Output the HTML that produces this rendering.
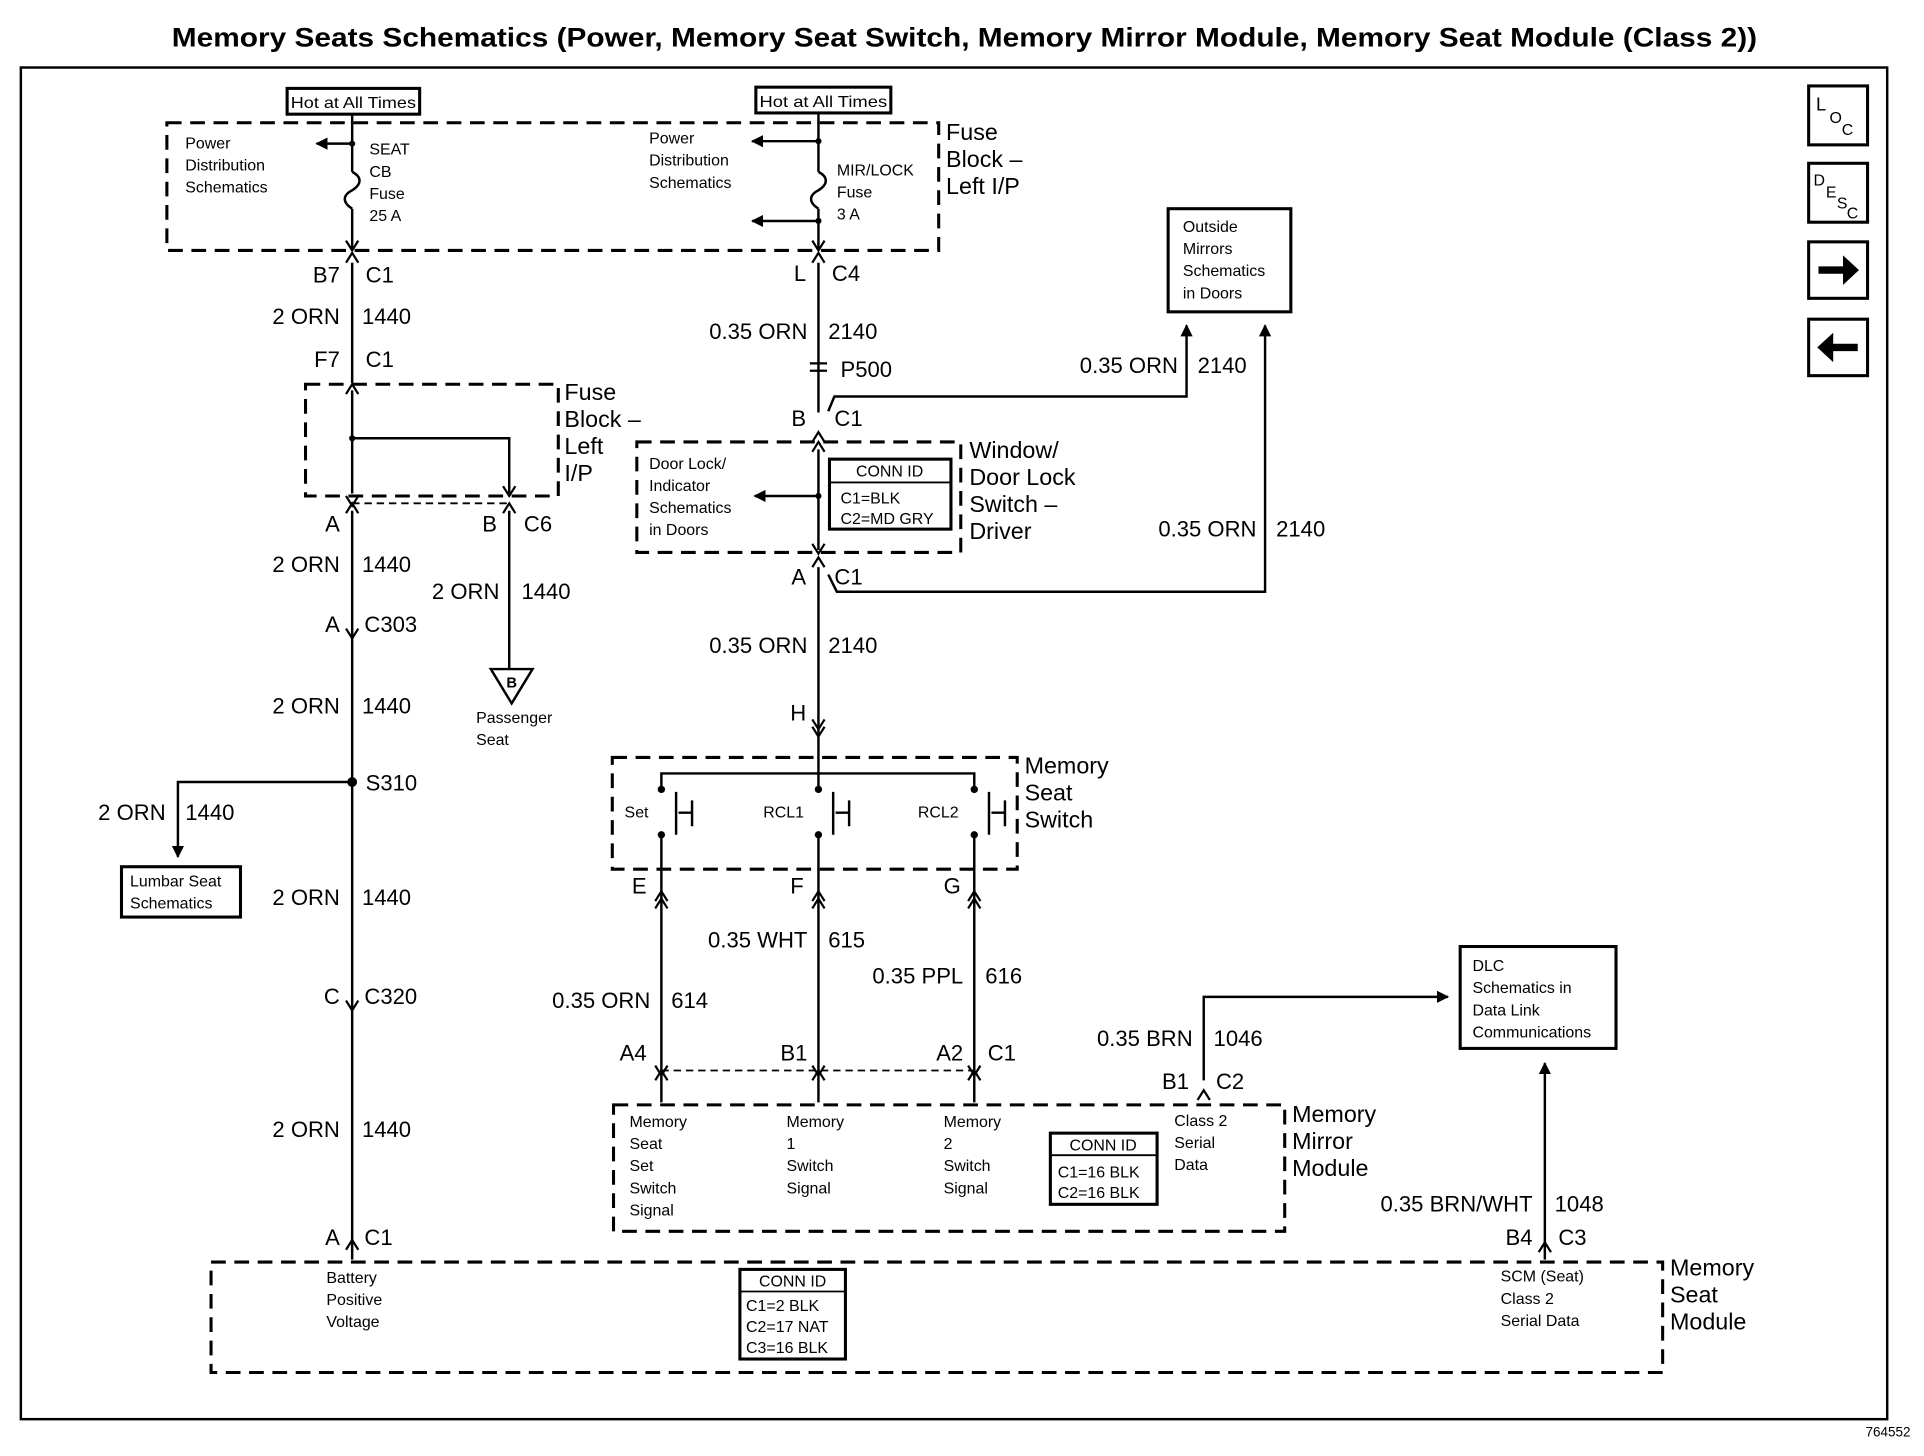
<!DOCTYPE html>
<html><head><meta charset="utf-8"><style>
html,body{margin:0;padding:0;background:#fff;}
svg{display:block}
text{font-family:"Liberation Sans",Arial,sans-serif;fill:#000}
.s{font-size:13px}
.m{font-size:18px}
.l{font-size:19px}
</style></head><body>
<svg width="1924" height="1456" viewBox="0 0 1568 1186" preserveAspectRatio="none" xmlns="http://www.w3.org/2000/svg">
<defs>
<marker id="ar" viewBox="0 0 10 10" refX="9" refY="5" markerWidth="5" markerHeight="5" orient="auto"><path d="M0,0 L10,5 L0,10 z" fill="#000"/></marker>
</defs>
<text x="140" y="38" font-size="22" font-weight="bold" textLength="1292" lengthAdjust="spacingAndGlyphs">Memory Seats Schematics (Power, Memory Seat Switch, Memory Mirror Module, Memory Seat Module (Class 2))</text>
<rect x="17" y="55" width="1521" height="1101" fill="none" stroke="#000" stroke-width="2"/>
<text x="1557" y="1170" text-anchor="end" font-size="11">764552</text>

<g fill="none" stroke="#000" stroke-width="2.5">
<rect x="1474" y="70" width="48" height="48"/><rect x="1474" y="133" width="48" height="48"/>
<rect x="1474" y="197" width="48" height="46"/><rect x="1474" y="260" width="48" height="46"/>
</g>
<text x="1480" y="90" font-size="15">L</text><text x="1491" y="100" font-size="13">O</text><text x="1501" y="110" font-size="13">C</text>
<text x="1478" y="151" font-size="13">D</text><text x="1488" y="161" font-size="13">E</text><text x="1497" y="170" font-size="13">S</text><text x="1505" y="178" font-size="13">C</text>
<path d="M1482,217 h20 v-9 l13,12 l-13,12 v-9 h-20z" fill="#000"/>
<path d="M1514,280 h-20 v-9 l-13,12 l13,12 v-9 h20z" fill="#000"/>

<g fill="none" stroke="#000" stroke-width="2.5" stroke-dasharray="12,7">
<rect x="136" y="100" width="629" height="104"/>
<rect x="249" y="313" width="206" height="91"/>
<rect x="519" y="360" width="264" height="90"/>
<rect x="499" y="617" width="330" height="91"/>
<rect x="500" y="900" width="547" height="103"/>
<rect x="172" y="1028" width="1183" height="90"/>
</g>
<line x1="539" y1="872" x2="794" y2="872" stroke="#000" stroke-width="1.5" stroke-dasharray="6,4"/>
<line x1="287" y1="410" x2="415" y2="410" stroke="#000" stroke-width="1.5" stroke-dasharray="6,4"/>

<g fill="none" stroke="#000" stroke-width="2.5">
<rect x="234" y="72" width="108" height="21"/><rect x="616" y="71" width="110" height="21"/>
<rect x="952" y="170" width="100" height="84"/>
<rect x="676" y="374" width="99" height="57"/>
<rect x="99" y="706" width="97" height="41"/>
<rect x="1190" y="771" width="127" height="83"/>
<rect x="856" y="923" width="87" height="58"/>
<rect x="603" y="1034" width="86" height="73"/>
</g>
<g stroke="#000" stroke-width="1.5">
<line x1="676" y1="393" x2="775" y2="393"/><line x1="856" y1="941" x2="943" y2="941"/><line x1="603" y1="1052" x2="689" y2="1052"/>
</g>
<text x="237" y="88" class="s" textLength="102" lengthAdjust="spacingAndGlyphs">Hot at All Times</text><text x="619" y="87" class="s" textLength="104" lengthAdjust="spacingAndGlyphs">Hot at All Times</text>

<g fill="none" stroke="#000" stroke-width="2">
<path d="M287,93 V140 M287,170 V202"/>
<path d="M287,140 c8,4 8,10 0,15 c-8,4 -8,10 0,15"/>
<path d="M287,117 H258" marker-end="url(#ar)"/>
<path d="M287,214 V312"/>
<path d="M287,318 V402"/>
<path d="M287,357 H415 V402"/>
<path d="M415,416 V545"/>
<path d="M287,416 V1026"/>
<path d="M287,637 H145 V698" marker-end="url(#ar)"/>
<path d="M667,92 V140 M667,170 V202"/>
<path d="M667,140 c8,4 8,10 0,15 c-8,4 -8,10 0,15"/>
<path d="M667,115 H613" marker-end="url(#ar)"/>
<path d="M667,180 H613" marker-end="url(#ar)"/>
<path d="M667,214 V336"/>
<path d="M675,335 L680,323 H967 V265" marker-end="url(#ar)"/>
<path d="M667,366 V448"/>
<path d="M667,404 H615" marker-end="url(#ar)"/>
<path d="M667,462 V600"/>
<path d="M675,468 L682,482 H1031 V265" marker-end="url(#ar)"/>
<path d="M667,600 V643"/>
<path d="M539,643 V630 H794 V643"/>
<path d="M539,680 V898 M667,680 V898 M794,680 V898"/>
<path d="M981,880 V812 H1180" marker-end="url(#ar)"/>
<path d="M1259,1026 V866" marker-end="url(#ar)"/>
</g>
<g stroke="#000" stroke-width="2" fill="none">
<path d="M551,645 V680 M553,662 H564 M564,652 V673"/>
<path d="M679,645 V680 M681,662 H692 M692,652 V673"/>
<path d="M806,645 V680 M808,662 H819 M819,652 V673"/>
</g>
<g fill="#000">
<circle cx="287" cy="117" r="2.5"/><circle cx="287" cy="357" r="2.5"/><circle cx="287" cy="637" r="4"/>
<circle cx="667" cy="115" r="2.5"/><circle cx="667" cy="180" r="2.5"/><circle cx="667" cy="404" r="2.5"/>
<circle cx="539" cy="643" r="3"/><circle cx="667" cy="643" r="3"/><circle cx="794" cy="643" r="3"/>
<circle cx="539" cy="680" r="3"/><circle cx="667" cy="680" r="3"/><circle cx="794" cy="680" r="3"/>
</g>
<g stroke="#000" stroke-width="1.8" fill="none">
<path d="M282,196 L287,204 L292,196 M282,214 L287,206 L292,214"/>
<path d="M662,196 L667,204 L672,196 M662,214 L667,206 L672,214"/>
<path d="M282,321 L287,313 L292,321 M282,404 L287,412 L292,404 M282,418 L287,410 L292,418"/>
<path d="M410,396 L415,404 L420,396 M410,418 L415,410 L420,418"/>
<path d="M282,512 L287,520 L292,512 M282,815 L287,823 L292,815 M282,1018 L287,1010 L292,1018"/>
<path d="M660,296 H674 M660,302 H674"/>
<path d="M662,360 L667,352 L672,360 M662,368 L667,360 L672,368"/>
<path d="M662,443 L667,451 L672,443 M662,462 L667,454 L672,462"/>
<path d="M662,592 L667,600 L672,592 M662,586 L667,594 L672,586"/>
<path d="M534,740 L539,732 L544,740 M534,734 L539,726 L544,734 M662,740 L667,732 L672,740 M662,734 L667,726 L672,734 M789,740 L794,732 L799,740 M789,734 L794,726 L799,734"/>
<path d="M534,868 L539,876 L544,868 M534,880 L539,872 L544,880 M662,868 L667,876 L672,868 M662,880 L667,872 L672,880 M789,868 L794,876 L799,868 M789,880 L794,872 L799,880"/>
<path d="M976,896 L981,888 L986,896 M1254,1020 L1259,1012 L1264,1020"/>
</g>
<polygon points="400,545 434,545 417,573" fill="none" stroke="#000" stroke-width="2"/>
<text x="417" y="560" text-anchor="middle" font-size="12" font-weight="bold">B</text>

<g class="s">
<text x="151" y="121">Power</text><text x="151" y="139">Distribution</text><text x="151" y="157">Schematics</text>
<text x="301" y="126">SEAT</text><text x="301" y="144">CB</text><text x="301" y="162">Fuse</text><text x="301" y="180">25 A</text>
<text x="529" y="117">Power</text><text x="529" y="135">Distribution</text><text x="529" y="153">Schematics</text>
<text x="682" y="143">MIR/LOCK</text><text x="682" y="161">Fuse</text><text x="682" y="179">3 A</text>
<text x="964" y="189">Outside</text><text x="964" y="207">Mirrors</text><text x="964" y="225">Schematics</text><text x="964" y="243">in Doors</text>
<text x="529" y="382">Door Lock/</text><text x="529" y="400">Indicator</text><text x="529" y="418">Schematics</text><text x="529" y="436">in Doors</text>
<text x="725" y="388" text-anchor="middle">CONN ID</text><text x="685" y="410">C1=BLK</text><text x="685" y="427">C2=MD GRY</text>
<text x="388" y="589">Passenger</text><text x="388" y="607">Seat</text>
<text x="106" y="722">Lumbar Seat</text><text x="106" y="740">Schematics</text>
<text x="509" y="666">Set</text><text x="622" y="666">RCL1</text><text x="748" y="666">RCL2</text>
<text x="1200" y="791">DLC</text><text x="1200" y="809">Schematics in</text><text x="1200" y="827">Data Link</text><text x="1200" y="845">Communications</text>
<text x="513" y="918">Memory</text><text x="513" y="936">Seat</text><text x="513" y="954">Set</text><text x="513" y="972">Switch</text><text x="513" y="990">Signal</text>
<text x="641" y="918">Memory</text><text x="641" y="936">1</text><text x="641" y="954">Switch</text><text x="641" y="972">Signal</text>
<text x="769" y="918">Memory</text><text x="769" y="936">2</text><text x="769" y="954">Switch</text><text x="769" y="972">Signal</text>
<text x="957" y="917">Class 2</text><text x="957" y="935">Serial</text><text x="957" y="953">Data</text>
<text x="899" y="937" text-anchor="middle">CONN ID</text><text x="862" y="959">C1=16 BLK</text><text x="862" y="976">C2=16 BLK</text>
<text x="266" y="1045">Battery</text><text x="266" y="1063">Positive</text><text x="266" y="1081">Voltage</text>
<text x="646" y="1048" text-anchor="middle">CONN ID</text><text x="608" y="1068">C1=2 BLK</text><text x="608" y="1085">C2=17 NAT</text><text x="608" y="1102">C3=16 BLK</text>
<text x="1223" y="1044">SCM (Seat)</text><text x="1223" y="1062">Class 2</text><text x="1223" y="1080">Serial Data</text>
</g>

<g class="l">
<text x="771" y="114">Fuse</text><text x="771" y="136">Block –</text><text x="771" y="158">Left I/P</text>
<text x="460" y="326">Fuse</text><text x="460" y="348">Block –</text><text x="460" y="370">Left</text><text x="460" y="392">I/P</text>
<text x="790" y="373">Window/</text><text x="790" y="395">Door Lock</text><text x="790" y="417">Switch –</text><text x="790" y="439">Driver</text>
<text x="835" y="630">Memory</text><text x="835" y="652">Seat</text><text x="835" y="674">Switch</text>
<text x="1053" y="914">Memory</text><text x="1053" y="936">Mirror</text><text x="1053" y="958">Module</text>
<text x="1361" y="1039">Memory</text><text x="1361" y="1061">Seat</text><text x="1361" y="1083">Module</text>
</g>
<g class="m">
<text x="277" y="230" text-anchor="end">B7</text><text x="298" y="230">C1</text>
<text x="277" y="264" text-anchor="end">2 ORN</text><text x="295" y="264">1440</text>
<text x="277" y="299" text-anchor="end">F7</text><text x="298" y="299">C1</text>
<text x="277" y="433" text-anchor="end">A</text><text x="405" y="433" text-anchor="end">B</text><text x="427" y="433">C6</text>
<text x="277" y="466" text-anchor="end">2 ORN</text><text x="295" y="466">1440</text>
<text x="407" y="488" text-anchor="end">2 ORN</text><text x="425" y="488">1440</text>
<text x="277" y="515" text-anchor="end">A</text><text x="297" y="515">C303</text>
<text x="277" y="581" text-anchor="end">2 ORN</text><text x="295" y="581">1440</text>
<text x="298" y="644">S310</text>
<text x="135" y="668" text-anchor="end">2 ORN</text><text x="151" y="668">1440</text>
<text x="277" y="737" text-anchor="end">2 ORN</text><text x="295" y="737">1440</text>
<text x="277" y="818" text-anchor="end">C</text><text x="297" y="818">C320</text>
<text x="277" y="926" text-anchor="end">2 ORN</text><text x="295" y="926">1440</text>
<text x="277" y="1014" text-anchor="end">A</text><text x="297" y="1014">C1</text>
<text x="657" y="229" text-anchor="end">L</text><text x="678" y="229">C4</text>
<text x="658" y="276" text-anchor="end">0.35 ORN</text><text x="675" y="276">2140</text>
<text x="685" y="307">P500</text>
<text x="960" y="304" text-anchor="end">0.35 ORN</text><text x="976" y="304">2140</text>
<text x="657" y="347" text-anchor="end">B</text><text x="680" y="347">C1</text>
<text x="1024" y="437" text-anchor="end">0.35 ORN</text><text x="1040" y="437">2140</text>
<text x="657" y="476" text-anchor="end">A</text><text x="680" y="476">C1</text>
<text x="658" y="532" text-anchor="end">0.35 ORN</text><text x="675" y="532">2140</text>
<text x="657" y="587" text-anchor="end">H</text>
<text x="527" y="728" text-anchor="end">E</text><text x="655" y="728" text-anchor="end">F</text><text x="783" y="728" text-anchor="end">G</text>
<text x="658" y="772" text-anchor="end">0.35 WHT</text><text x="675" y="772">615</text>
<text x="785" y="801" text-anchor="end">0.35 PPL</text><text x="803" y="801">616</text>
<text x="530" y="821" text-anchor="end">0.35 ORN</text><text x="547" y="821">614</text>
<text x="972" y="852" text-anchor="end">0.35 BRN</text><text x="989" y="852">1046</text>
<text x="527" y="864" text-anchor="end">A4</text><text x="658" y="864" text-anchor="end">B1</text><text x="785" y="864" text-anchor="end">A2</text><text x="805" y="864">C1</text>
<text x="969" y="887" text-anchor="end">B1</text><text x="991" y="887">C2</text>
<text x="1249" y="987" text-anchor="end">0.35 BRN/WHT</text><text x="1267" y="987">1048</text>
<text x="1249" y="1014" text-anchor="end">B4</text><text x="1270" y="1014">C3</text>
</g>
</svg>
</body></html>
